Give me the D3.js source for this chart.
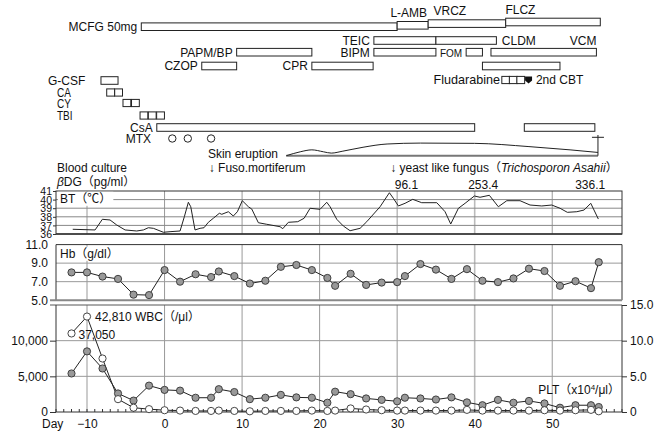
<!DOCTYPE html>
<html><head><meta charset="utf-8">
<script src="https://cdn.jsdelivr.net/npm/d3@7"></script>
<style>
body{margin:0;background:#fff}
text{font-family:"Liberation Sans",Arial,"Noto Sans CJK JP",sans-serif;fill:#111}
</style>
</head><body><svg id="c" width="662" height="432"></svg>
<script>
// ---------------- DATA ----------------
const labDays = [-12,-10,-8,-6,-4,-2,0,2,4,6,7,9,11,13,15,17,19,21,22,24,26,28,30,31,33,35,37,39,41,43,45,47,49,51,53,55,56];
const hbValues = [8.0,8.0,7.55,7.3,5.6,5.55,8.25,7.0,7.8,7.5,8.1,7.6,6.8,7.1,8.6,8.8,8.25,7.4,6.55,7.85,6.65,6.9,6.95,7.6,8.9,8.3,7.3,8.35,7.1,6.95,7.35,8.4,8.15,6.55,7.05,6.3,9.1];
const pltValues = [5.4,8.5,6.1,2.6,1.6,3.7,3.1,3.0,2.0,2.0,3.2,2.8,1.8,2.0,2.4,2.05,2.0,1.3,2.85,2.5,1.9,1.7,1.5,2.0,1.9,1.75,2.05,1.35,0.95,1.7,1.3,1.55,1.2,0.6,0.95,0.95,0.7];
const wbcValues = [37050,42810,7500,1800,600,400,250,200,150,150,200,150,100,150,150,150,200,150,200,500,350,250,200,200,200,200,200,300,200,200,200,200,250,200,250,300,100];

const btDays = [-11.84,-8.96,-8.02,-7.03,-6.17,-5.09,-3.59,-2.73,-2.09,-1.44,-0.15,0.71,2.0,2.55,3.07,3.38,3.93,4.58,5.09,5.65,6.29,7.07,7.38,8.23,8.87,9.39,10.03,10.81,11.25,12.1,13.18,14.9,15.25,15.97,17.18,18.0,18.77,20.06,20.92,21.35,22.21,23.06,23.93,25.22,26.08,27.8,29.0,29.51,30.16,31.02,32.01,33.17,35.11,36.18,36.91,37.9,38.76,39.96,40.69,41.89,43.05,44.14,45.85,47.14,48.65,49.94,51.01,51.95,53.17,54.11,54.97,55.95];
const btTemps = [36.55,36.47,37.71,37.63,37.05,36.47,36.35,36.47,36.73,36.66,36.2,36.27,36.35,38.0,39.69,39.17,36.47,36.66,36.73,37.36,37.83,38.41,38.29,38.59,38.09,38.59,39.87,39.17,38.9,37.31,37.13,36.85,36.62,37.36,37.43,37.83,38.99,38.87,39.69,39.17,37.71,36.93,36.38,36.66,37.43,39.17,40.8,40.15,39.26,39.57,40.03,39.64,39.64,38.59,37.16,38.99,39.57,40.42,40.27,40.5,39.17,39.87,39.87,39.37,39.26,39.37,38.99,38.52,38.59,38.79,39.57,37.74];

// treatment bars: name, first day, last day, lane
const drugBars = [
  {name:"MCFG 50mg", start:-3,   end:30,   lane:"mcfg", labelLeft:true},
  {name:"L-AMB",     start:30,   end:34,   lane:"lamb"},
  {name:"VRCZ",      start:34,   end:44,   lane:"vrcz"},
  {name:"FLCZ",      start:44,   end:56.2, lane:"flcz"},
  {name:"TEIC",      start:27,   end:35,   lane:"rowA", labelLeft:true},
  {name:"TEIC-2",    start:35,   end:42.8, lane:"rowA"},
  {name:"PAPM/BP",   start:9.3,  end:19,   lane:"rowB", labelLeft:true},
  {name:"BIPM",      start:27,   end:35,   lane:"rowB", labelLeft:true},
  {name:"FOM",       start:38.9, end:41,   lane:"rowB", labelLeft:true},
  {name:"VCM",       start:42.1, end:55.7, lane:"rowB"},
  {name:"CZOP",      start:4.8,  end:9.3,  lane:"rowC", labelLeft:true},
  {name:"CPR",       start:19,   end:26.9, lane:"rowC", labelLeft:true},
  {name:"CLDM",      start:41,   end:51,   lane:"rowC"},
  {name:"G-CSF",     start:-8.2, end:-6,   lane:"gcsf"},
  {name:"CsA",       start:-1,   end:40,   lane:"csa",  labelLeft:true},
  {name:"CsA-2",     start:46.4, end:55.5, lane:"csa"}
];
const freeLabels = [
  {text:"L-AMB", day:31.5, lane:"lambTxt", anchor:"middle"},
  {text:"VRCZ",  day:36.8, lane:"vrczTxt", anchor:"middle"},
  {text:"FLCZ",  day:45.9, lane:"flczTxt", anchor:"middle"},
  {text:"CLDM",  day:43.5, lane:"rowA", anchor:"start"},
  {text:"VCM",   day:55.7, lane:"rowA", anchor:"end"},
  {text:"G-CSF", day:-15.03, lane:"gcsf", anchor:"start"},
  {text:"MTX",   day:-1.74, lane:"mtx", anchor:"end"},
  {text:"Fludarabine", day:43.27, lane:"flu", anchor:"end"},
  {text:"2nd CBT", day:47.9, lane:"flu", anchor:"start"},
  {text:"Skin eruption", day:5.6, lane:"erupt", anchor:"start"},
  {text:"Blood culture", day:-13.87, lane:"culture", anchor:"start"}
];
const condLabels = [
  {text:"CA",  day:-13.87, lane:"ca"},
  {text:"CY",  day:-13.87, lane:"cy"},
  {text:"TBI", day:-13.87, lane:"tbi"}
];
const dayBoxes = [
  {name:"CA",  days:[-7.46,-6.43], lane:"ca"},
  {name:"CY",  days:[-5.36,-4.26], lane:"cy"},
  {name:"TBI", days:[-3.16,-2.09,-1.02], lane:"tbi"},
  {name:"Fludarabine", days:[43.5,44.47,45.44], lane:"flu"}
];
const cbtDay = 46.5;
const mtxDays = [1,3,6];
const eruptDays  = [15.7,17.5,19,20.5,21.5,23,25.6,28.7,33,40,47,52.3,55.9];
const eruptLevel = [0,0.3,0.45,0.3,0.2,0.35,0.65,0.9,0.97,0.95,0.7,0.45,0.25];
const cultureDays = [5.7, 29.1];
const cultureText = ["Fuso.mortiferum", "yeast like fungus"];
const bdgDays = [31.2, 41.1, 54.9];
const bdgValues = ["96.1","253.4","336.1"];
const gridDays = [-10,0,10,20,30,40,50];
const dayTicks = [-10,0,10,20,30,40,50];
const btTicks = [36,37,38,39,40,41];
const hbTicks = [5,7,9,11];
const wbcTicks = [0,5000,10000];
const pltTicks = [0,5,10,15];

// ---------------- SCALES ----------------
const svg = d3.select("#c");
const x = d3.scaleLinear().domain([-14,59]).range([56,622]);
const yBT = d3.scaleLinear().domain([36,41]).range([234,191]);
const yHb = d3.scaleLinear().domain([5,11]).range([300.2,244.6]);
const yPLT = d3.scaleLinear().domain([0,15]).range([412,305]);
const yWBC = d3.scaleLinear().domain([0,10000,37000,43000]).range([412,yPLT(10),333.6,316]);
const laneY = {mcfg:26.7,lamb:25.3,vrcz:23.6,flcz:22,lambTxt:12.6,vrczTxt:11,flczTxt:9.4,
  rowA:40.5,rowB:52.2,rowC:66,flu:80,gcsf:80.5,ca:92.5,cy:103,tbi:115.5,csa:127.5,mtx:138.5,
  erupt:153.5,culture:168};
const barH = 7.6;
const FS = 12;

// ---------------- TREATMENTS ----------------
const gT = svg.append("g");
gT.selectAll("rect.bar").data(drugBars).join("rect")
  .attr("x", d=>x(d.start)).attr("width", d=>x(d.end)-x(d.start))
  .attr("y", d=>laneY[d.lane]-barH/2).attr("height", barH)
  .attr("fill","#fff").attr("stroke","#222").attr("stroke-width",1);
gT.selectAll("text.bl").data(drugBars.filter(d=>d.labelLeft)).join("text")
  .attr("x", d=>x(d.start)-4).attr("y", d=>laneY[d.lane]+4.3)
  .attr("text-anchor","end")
  .attr("font-size", d=>d.name==="FOM"?10:FS)
  .text(d=>d.name);
gT.selectAll("text.fl").data(freeLabels).join("text")
  .attr("x", d=>x(d.day)).attr("y", d=>laneY[d.lane]+4.3)
  .attr("text-anchor", d=>d.anchor).attr("font-size",d=>d.text==="Fludarabine"?12.6:FS)
  .text(d=>d.text);
gT.selectAll("text.cl").data(condLabels).join("text")
  .attr("transform", d=>`translate(${x(d.day)},${laneY[d.lane]+4.5}) scale(0.8,1)`)
  .attr("font-size",12.5).text(d=>d.text);
dayBoxes.forEach(b=>{
  gT.selectAll(null).data(b.days).join("rect")
    .attr("x", d=>x(d)).attr("width", 7.8)
    .attr("y", laneY[b.lane]-3.6).attr("height",7.2)
    .attr("fill","#fff").attr("stroke","#222");
});
{
  const x0=x(cbtDay), x1=x(cbtDay+0.9), yc=laneY.flu;
  gT.append("path")
    .attr("d",`M${x0},${yc-3.6}H${x1}V${yc+0.6}L${(x0+x1)/2},${yc+3.6}L${x0},${yc+0.6}Z`)
    .attr("fill","#111");
}
gT.selectAll("circle.mtx").data(mtxDays).join("circle")
  .attr("cx", d=>x(d)).attr("cy", laneY.mtx).attr("r",3.7)
  .attr("fill","#fff").attr("stroke","#222");

// skin eruption
const yEr = d3.scaleLinear().domain([0,1]).range([155.7,142.7]);
const erPts = eruptDays.map((d,i)=>[d,eruptLevel[i]]);
gT.append("line").attr("x1",x(eruptDays[0])).attr("x2",x(eruptDays[eruptDays.length-1]))
  .attr("y1",yEr(0)).attr("y2",yEr(0)).attr("stroke","#777").attr("stroke-width",2);
gT.append("path").datum(erPts)
  .attr("d", d3.line().x(d=>x(d[0])).y(d=>yEr(d[1])).curve(d3.curveMonotoneX))
  .attr("fill","none").attr("stroke","#222");
{
  const ex = x(eruptDays[eruptDays.length-1]);
  gT.append("line").attr("x1",ex).attr("x2",ex).attr("y1",yEr(0)).attr("y2",135).attr("stroke","#222");
  gT.append("line").attr("x1",ex-6).attr("x2",ex+6).attr("y1",137.3).attr("y2",137.3).attr("stroke","#222");
}

// blood culture
const cult = gT.selectAll("text.cu").data(cultureDays).join("text")
  .attr("x", d=>x(d)).attr("y", laneY.culture+4.3).attr("font-size",FS);
cult.append("tspan").text((d,i)=>"\u2193 "+cultureText[i]);
cult.filter((d,i)=>i===1).each(function(){
  const t=d3.select(this);
  t.append("tspan").text("\uFF08");
  t.append("tspan").attr("font-style","italic").text("Trichosporon Asahii");
  t.append("tspan").text("\uFF09");
});
{
  const t = gT.append("text").attr("x",x(-13.87)).attr("y",185.5).attr("font-size",FS);
  t.append("tspan").attr("font-style","italic").text("\u03B2");
  t.append("tspan").text("DG\uFF08pg/ml\uFF09");
}
gT.selectAll("text.bdg").data(bdgDays).join("text")
  .attr("x", d=>x(d)).attr("y",188.5).attr("text-anchor","middle").attr("font-size",FS)
  .text((d,i)=>bdgValues[i]);

// ---------------- GRIDS ----------------
const gG = svg.append("g");
const panels = [[191,234],[244.6,300.2],[305,412]];
panels.forEach(([t,b])=>{
  gG.selectAll(null).data(gridDays).join("line")
    .attr("x1",d=>x(d)).attr("x2",d=>x(d)).attr("y1",t).attr("y2",b)
    .attr("stroke",d=>d===40?"#bbb":"#999").attr("stroke-width",d=>d===40?1.6:1);
});
gG.selectAll(null).data([37,38,39,40]).join("line")
  .attr("x1",56).attr("x2",622).attr("y1",d=>yBT(d)).attr("y2",d=>yBT(d))
  .attr("stroke","#888");
gG.selectAll(null).data([7,9]).join("line")
  .attr("x1",56).attr("x2",622).attr("y1",d=>yHb(d)).attr("y2",d=>yHb(d))
  .attr("stroke","#999");
gG.selectAll(null).data([5,10]).join("line")
  .attr("x1",56).attr("x2",622).attr("y1",d=>yPLT(d)).attr("y2",d=>yPLT(d))
  .attr("stroke","#999");

// frames
const gF = svg.append("g").attr("fill","none").attr("stroke","#333");
gF.append("rect").attr("x",56).attr("y",191).attr("width",566).attr("height",43);
gF.append("line").attr("x1",56).attr("x2",622).attr("y1",234).attr("y2",234).attr("stroke-width",1.6);
gF.append("path").attr("d",`M56,300.2V244.6H622V300.2`);
gF.append("line").attr("x1",50).attr("x2",622).attr("y1",300.2).attr("y2",300.2).attr("stroke","#888").attr("stroke-width",2);
gF.append("line").attr("x1",50).attr("x2",622).attr("y1",305).attr("y2",305).attr("stroke","#555");

// ---------------- AXES ----------------
function styleAxis(g){ g.select(".domain").attr("stroke","#333"); g.selectAll(".tick line").attr("stroke","#333"); g.selectAll("text").attr("fill","#111").attr("font-family",'"Liberation Sans",Arial,sans-serif'); }
svg.append("g").attr("transform","translate(56,0)")
  .call(d3.axisLeft(yBT).tickValues(btTicks).tickSize(3).tickPadding(1).tickFormat(d3.format("d")))
  .call(g=>{styleAxis(g); g.select(".domain").remove(); g.selectAll("text").attr("font-size",10.5).attr("dy","0.36em");});
svg.append("g").attr("transform","translate(56,0)")
  .call(d3.axisLeft(yHb).tickValues(hbTicks).tickSize(0).tickPadding(8).tickFormat(d3.format(".1f")))
  .call(g=>{styleAxis(g); g.select(".domain").remove(); g.selectAll("text").attr("font-size",FS);});
svg.append("g").attr("transform","translate(56,0)")
  .call(d3.axisLeft(yWBC).tickValues(wbcTicks).tickSize(6).tickPadding(2).tickFormat(d3.format(",")))
  .call(g=>{styleAxis(g); g.select(".domain").attr("d","M0,305V412"); g.selectAll("text").attr("font-size",FS);});
svg.append("g").attr("transform","translate(622,0)")
  .call(d3.axisRight(yPLT).tickValues(pltTicks).tickSize(5).tickPadding(3).tickFormat(d=>d===0?"0":d3.format(".1f")(d)))
  .call(g=>{styleAxis(g); g.select(".domain").attr("d","M0,305V412"); g.selectAll("text").attr("font-size",FS);});
svg.append("g").attr("transform","translate(0,412)")
  .call(d3.axisBottom(x).tickValues(dayTicks).tickSize(0).tickPadding(7).tickFormat(d3.format("d")))
  .call(g=>{styleAxis(g); g.select(".domain").attr("d","M56,0H622"); g.selectAll("text").attr("font-size",FS);});
svg.append("g").selectAll("line").data(d3.range(-14,60)).join("line")
  .attr("x1",d=>x(d)).attr("x2",d=>x(d)).attr("y1",412).attr("y2",409).attr("stroke","#333");
svg.append("text").attr("x",42).attr("y",427.5).attr("font-size",FS).text("Day");

// ---------------- PANEL LABELS ----------------
function panelLabel(yc, parts){
  const t = svg.append("text").attr("x",60).attr("y",yc+4.3).attr("font-size",FS);
  parts.forEach(p=>t.append("tspan").text(p));
  const bb = t.node().getBBox();
  svg.insert("rect", ()=>t.node()).attr("x",bb.x-2).attr("y",bb.y).attr("width",bb.width+4).attr("height",bb.height).attr("fill","#fff");
}
panelLabel(198.5, ["BT\uFF08\u2103\uFF09"]);
panelLabel(253.5, ["Hb\uFF08g/dl\uFF09"]);

// ---------------- LINES ----------------
const btLine = d3.line().x((d,i)=>x(btDays[i])).y(d=>yBT(d));
svg.append("path").attr("d",btLine(btTemps)).attr("fill","none").attr("stroke","#222").attr("stroke-width",1);

const hbLine = d3.line().x((d,i)=>x(labDays[i])).y(d=>yHb(d));
svg.append("path").attr("d",hbLine(hbValues)).attr("fill","none").attr("stroke","#222");
svg.append("g").selectAll("circle").data(hbValues).join("circle")
  .attr("cx",(d,i)=>x(labDays[i])).attr("cy",d=>yHb(d)).attr("r",3.6)
  .attr("fill","#999").attr("stroke","#333").attr("stroke-width",0.9);

const pltLine = d3.line().x((d,i)=>x(labDays[i])).y(d=>yPLT(d));
svg.append("path").attr("d",pltLine(pltValues)).attr("fill","none").attr("stroke","#222");
const wbcLine = d3.line().x((d,i)=>x(labDays[i])).y(d=>yWBC(d));
svg.append("path").attr("d",wbcLine(wbcValues)).attr("fill","none").attr("stroke","#222");
svg.append("g").selectAll("circle").data(pltValues).join("circle")
  .attr("cx",(d,i)=>x(labDays[i])).attr("cy",d=>yPLT(d)).attr("r",3.6)
  .attr("fill","#999").attr("stroke","#333").attr("stroke-width",0.9);
svg.append("g").selectAll("circle").data(wbcValues).join("circle")
  .attr("cx",(d,i)=>x(labDays[i])).attr("cy",d=>yWBC(d)).attr("r",3.6)
  .attr("fill","#fff").attr("stroke","#333").attr("stroke-width",0.9);

// WBC annotations
svg.append("text").attr("x",x(labDays[1])+8).attr("y",yWBC(wbcValues[1])+4.3).attr("font-size",FS)
  .text(d3.format(",")(wbcValues[1])+"  WBC\uFF08/\u03BCl\uFF09");
svg.append("text").attr("x",x(labDays[0])+7).attr("y",yWBC(wbcValues[0])+6).attr("font-size",FS)
  .text(d3.format(",")(wbcValues[0]));
{
  const t = svg.append("text").attr("x",620).attr("y",394.3).attr("text-anchor","end").attr("font-size",FS);
  t.append("tspan").text("PLT\uFF08x10");
  t.append("tspan").attr("font-size",8).attr("dy",-4).text("4");
  t.append("tspan").attr("dy",4).text("/\u03BCl\uFF09");
}
</script></body></html>
